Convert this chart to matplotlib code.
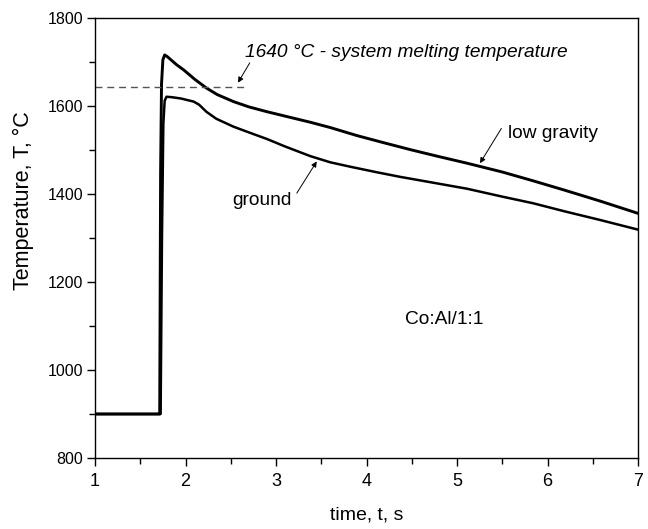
import matplotlib
matplotlib.use("Agg")
import matplotlib.pyplot as plt
from matplotlib.ticker import MultipleLocator

plt.rcParams['font.family'] = ['Liberation Sans', 'DejaVu Sans']

# Low gravity curve
t_low = [1.0, 1.70, 1.715, 1.725, 1.735, 1.75, 1.77, 1.80, 1.85, 1.90, 1.98, 2.10, 2.23,
         2.35, 2.53, 2.70, 2.90, 3.10, 3.38, 3.60, 3.89, 4.20, 4.50, 4.80, 5.11, 5.50,
         5.84, 6.20, 6.58, 7.00]
T_low = [900, 900, 900, 1450, 1650, 1705, 1716, 1712, 1703, 1694, 1682, 1661, 1641,
         1626, 1610, 1598, 1587, 1577, 1563, 1551, 1533, 1516, 1500, 1485, 1470, 1450,
         1430, 1408, 1384, 1356]

# Ground curve
t_gnd = [1.0, 1.725, 1.74, 1.755, 1.77, 1.79, 1.85, 1.95, 2.09, 2.15, 2.23, 2.34, 2.53,
         2.70, 2.90, 3.10, 3.38, 3.60, 3.82, 4.10, 4.37, 4.70, 5.11, 5.50, 5.84, 6.20,
         6.58, 7.00]
T_gnd = [900, 900, 1300, 1560, 1612, 1621, 1620, 1617, 1610, 1603, 1587, 1571, 1553,
         1540, 1525, 1508, 1486, 1472, 1462, 1450, 1439, 1427, 1412, 1394, 1379, 1360,
         1341, 1319]

melt_T = 1643
melt_t = [1.0, 2.66]

fig = plt.figure(figsize=(6.48, 5.29), dpi=100)
ax = fig.add_axes([0.1466, 0.1342, 0.8380, 0.8318])

ax.plot(t_low, T_low, color='black', lw=2.1, solid_joinstyle='round')
ax.plot(t_gnd, T_gnd, color='black', lw=1.8, solid_joinstyle='round')
ax.plot(melt_t, [melt_T, melt_T], color='#555555', lw=1.0, ls=(0, (5, 3.5)))

ax.set_xlim(1, 7)
ax.set_ylim(800, 1800)
ax.xaxis.set_major_locator(MultipleLocator(1))
ax.xaxis.set_minor_locator(MultipleLocator(0.5))
ax.yaxis.set_major_locator(MultipleLocator(200))
ax.yaxis.set_minor_locator(MultipleLocator(100))
ax.tick_params(which='both', direction='out', top=False, right=False, width=1)
ax.tick_params(axis='x', which='major', length=6, labelsize=13, pad=5)
ax.tick_params(axis='x', which='minor', length=4)
ax.tick_params(axis='y', which='major', length=5.5, labelsize=11.5, pad=3)
ax.tick_params(axis='y', which='minor', length=4.5)
for s in ax.spines.values():
    s.set_linewidth(1.0)

ax.set_xlabel('time, t, s', fontsize=14, labelpad=12)
ax.set_ylabel('Temperature, T, \u00b0C', fontsize=15.5)
ax.yaxis.set_label_coords(-0.112, 0.586)

arrow = dict(arrowstyle='-|>', color='black', lw=0.7, mutation_scale=8, shrinkA=0, shrinkB=0)
ax.annotate('', xy=(2.58, 1653), xytext=(2.71, 1698), arrowprops=arrow)
ax.text(2.657, 1712, '1640 \u00b0C - system melting temperature', fontsize=13.8,
        style='italic', ha='left', va='baseline')

ax.annotate('', xy=(5.254, 1470), xytext=(5.49, 1549), arrowprops=arrow)
ax.text(5.56, 1528, 'low gravity', fontsize=13.8, ha='left', va='baseline')

ax.annotate('', xy=(3.45, 1474), xytext=(3.23, 1402), arrowprops=arrow)
ax.text(2.514, 1375, 'ground', fontsize=13.8, ha='left', va='baseline')

ax.text(4.86, 1115, 'Co:Al/1:1', fontsize=13.8, ha='center', va='center')

fig.savefig('out.png', dpi=100)
